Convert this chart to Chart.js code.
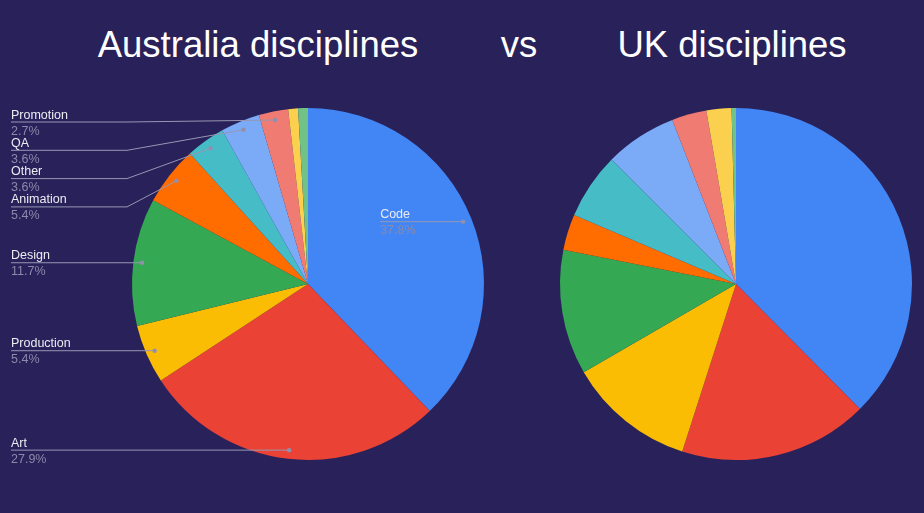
<!DOCTYPE html>
<html>
<head>
<meta charset="utf-8">
<script src="https://cdn.jsdelivr.net/npm/chart.js@4/dist/chart.umd.min.js"></script>
<style>
  html, body { margin: 0; padding: 0; }
  body { width: 924px; height: 513px; background: #29215a; position: relative; overflow: hidden; font-family: "Liberation Sans", Arial, sans-serif; }
  .title { position: absolute; top: 23px; color: #fff; font-size: 36.5px; white-space: nowrap; transform: translateX(-50%); line-height: 44px; }
  canvas { position: absolute; }
</style>
</head>
<body>
<div class="title" style="left:258px">Australia disciplines</div>
<div class="title" style="left:519px">vs</div>
<div class="title" style="left:732px">UK disciplines</div>
<canvas id="au" style="left:0;top:100px;width:616px;height:368px" width="616" height="368"></canvas>
<canvas id="uk" style="left:548px;top:100px;width:376px;height:368px" width="376" height="368"></canvas>
<script>
// disciplines, clockwise from 12 o'clock
const disciplines = ['Code', 'Art', 'Production', 'Design', 'Animation', 'Other', 'QA', 'Promotion', 'Audio', 'Writing'];
// Australia: respondent counts (111 total)
const auValues = [42, 31, 6, 13, 6, 4, 4, 3, 1, 1];
// UK: shares in percent
const ukValues = [37.6, 17.4, 11.7, 11.5, 3.3, 6.1, 6.6, 3.2, 2.3, 0.4];
const sliceColors = ['#4285f4', '#ea4335', '#fbbc04', '#34a853', '#ff6d01', '#46bdc6', '#7baaf7', '#f07b72', '#fcd04f', '#71c287'];

// Google-sheets style labels with leader lines
const leaderLabels = {
  id: 'leaderLabels',
  afterDatasetsDraw(chart) {
    const ctx = chart.ctx;
    const values = chart.data.datasets[0].data;
    const total = values.reduce((a, b) => a + b, 0);
    const arcs = chart.getDatasetMeta(0).data;
    let items = [];
    arcs.forEach((arc, i) => {
      const pct = values[i] / total * 100;
      if (pct < 2) return;
      const mid = (arc.startAngle + arc.endAngle) / 2;
      const r = arc.outerRadius * 0.95;
      items.push({
        name: chart.data.labels[i],
        pct: pct.toFixed(1) + '%',
        x: arc.x + Math.cos(mid) * r,
        y: arc.y + Math.sin(mid) * r,
        left: Math.cos(mid) < 0
      });
    });

    ctx.save();
    ctx.font = '12.5px "Liberation Sans", Arial, sans-serif';
    ctx.textAlign = 'left';
    ctx.lineWidth = 1;

    function drawOne(labelX, elbowX, lineY, it) {
      ctx.strokeStyle = '#9797b3';
      ctx.beginPath();
      ctx.moveTo(labelX, lineY);
      ctx.lineTo(elbowX, lineY);
      ctx.lineTo(it.x, it.y);
      ctx.stroke();
      ctx.fillStyle = '#9090ae';
      ctx.beginPath();
      ctx.arc(it.x, it.y, 2.2, 0, Math.PI * 2);
      ctx.fill();
      ctx.fillStyle = '#ececf2';
      ctx.fillText(it.name, labelX, lineY - 3.5);
      ctx.fillStyle = '#8a8aaa';
      ctx.fillText(it.pct, labelX, lineY + 12.5);
    }

    const lefts = items.filter(d => d.left).sort((a, b) => a.y - b.y);
    let prev = 22 - 28.3;
    lefts.forEach(it => {
      const y = Math.max(it.y, prev + 28.3);
      prev = y;
      drawOne(11, 127, y, it);
    });
    items.filter(d => !d.left).forEach(it => {
      drawOne(it.x - 83, it.x, it.y, it);
    });
    ctx.restore();
  }
};

function pieOptions() {
  return {
    responsive: false,
    animation: false,
    layout: { padding: 8 },
    plugins: { legend: { display: false }, tooltip: { enabled: false } }
  };
}

new Chart(document.getElementById('au'), {
  type: 'pie',
  data: {
    labels: disciplines,
    datasets: [{ data: auValues, backgroundColor: sliceColors, borderWidth: 0 }]
  },
  options: pieOptions(),
  plugins: [leaderLabels]
});

new Chart(document.getElementById('uk'), {
  type: 'pie',
  data: {
    labels: disciplines,
    datasets: [{ data: ukValues, backgroundColor: sliceColors, borderWidth: 0 }]
  },
  options: pieOptions()
});
</script>
</body>
</html>
